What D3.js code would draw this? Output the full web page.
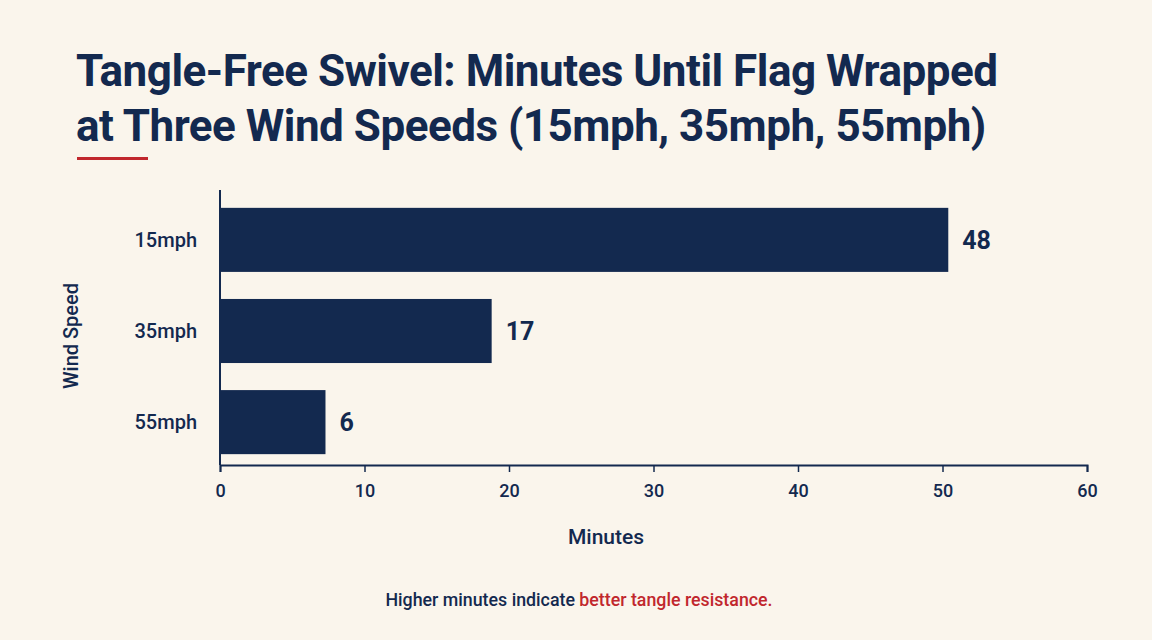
<!DOCTYPE html>
<html><head><meta charset="utf-8">
<script src="https://cdn.jsdelivr.net/npm/d3@7"></script>
<style>body{margin:0;background:#faf5ec}svg{display:block}text{font-family:Roboto,"Liberation Sans",sans-serif}</style>
</head><body><svg id="c" width="1152" height="640"></svg>
<script>
const categories = ["15mph","35mph","55mph"];
const barValues = [50.4, 18.8, 7.3];      // bar lengths as drawn
const valueLabels = ["48","17","6"];      // printed labels
const xTicks = [0,10,20,30,40,50,60];
const navy = "#13294f", red = "#c1272d";
const svg = d3.select("#c");
svg.append("rect").attr("width",1152).attr("height",640).attr("fill","#faf5ec");
const title = svg.append("text").attr("x",76).attr("fill",navy).attr("font-size",44).attr("font-weight",700).attr("letter-spacing",-0.5);
title.append("tspan").attr("x",76).attr("y",86).text("Tangle-Free Swivel: Minutes Until Flag Wrapped");
title.append("tspan").attr("x",76).attr("y",141).text("at Three Wind Speeds (15mph, 35mph, 55mph)");
svg.append("rect").attr("x",77).attr("y",157).attr("width",71).attr("height",3).attr("fill",red);
const x = d3.scaleLinear().domain([0,60]).range([220,1087]);
const y = d3.scaleBand().domain(categories).range([196,466]).paddingInner(0.297).paddingOuter(0.13);
svg.selectAll(".bar").data(categories).join("rect").attr("x",x(0)).attr("y",d=>y(d))
  .attr("width",(d,i)=>x(barValues[i])-x(0)).attr("height",y.bandwidth()).attr("fill",navy);
svg.selectAll(".vl").data(categories).join("text").attr("x",(d,i)=>x(barValues[i])+14)
  .attr("y",d=>y(d)+y.bandwidth()/2).attr("dy","0.36em").attr("fill",navy).attr("font-size",25).attr("font-weight",700)
  .text((d,i)=>valueLabels[i]);
svg.selectAll(".cl").data(categories).join("text").attr("x",197).attr("y",d=>y(d)+y.bandwidth()/2).attr("dy","0.35em")
  .attr("text-anchor","end").attr("fill",navy).attr("font-size",20).attr("font-weight",500).text(d=>d);
svg.append("line").attr("x1",220).attr("x2",220).attr("y1",190).attr("y2",465).attr("stroke",navy).attr("stroke-width",2);
const ax = svg.append("g").attr("transform","translate(0,465)").call(d3.axisBottom(x).tickValues(xTicks).tickSize(7).tickPadding(12));
ax.select(".domain").attr("stroke",navy).attr("stroke-width",2);
ax.selectAll(".tick line").attr("stroke",navy).attr("stroke-width",1.5);
ax.selectAll(".tick text").attr("fill",navy).attr("font-size",18).attr("font-weight",500).attr("font-family","Roboto,sans-serif");
svg.append("text").attr("x",606).attr("y",544).attr("text-anchor","middle").attr("fill",navy).attr("font-size",21).attr("font-weight",500).text("Minutes");
svg.append("text").attr("transform","translate(78,336) rotate(-90)").attr("text-anchor","middle").attr("fill",navy).attr("font-size",20).attr("font-weight",500).text("Wind Speed");
const f = svg.append("text").attr("x",579).attr("y",606).attr("text-anchor","middle").attr("font-size",17.8).attr("font-weight",500);
f.append("tspan").attr("fill",navy).text("Higher minutes indicate ");
f.append("tspan").attr("fill",red).text("better tangle resistance.");
</script></body></html>
